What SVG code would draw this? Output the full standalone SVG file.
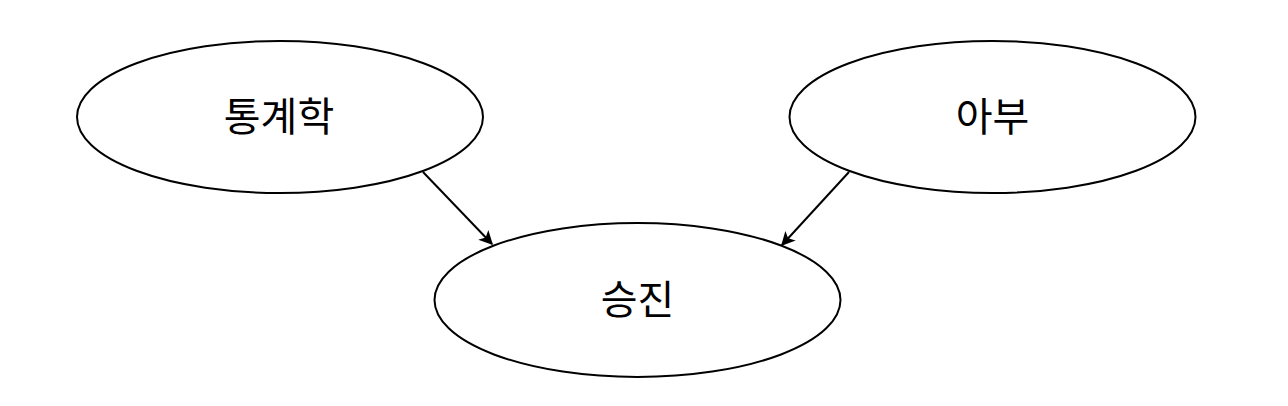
<svg xmlns="http://www.w3.org/2000/svg" width="1288" height="406" viewBox="0 0 1288 406">
<style>
.node ellipse{fill:#fff;stroke:#000;stroke-width:2}
.node text{font-family:"Noto Sans CJK KR","Noto Sans",sans-serif;font-size:40px;text-anchor:middle;fill:#000}
.edge{stroke:#000;stroke-width:2;fill:none;marker-end:url(#arrow)}
</style>
<defs>
<marker id="arrow" viewBox="0 0 10 10" refX="9" refY="5" markerWidth="7" markerHeight="7" markerUnits="strokeWidth" orient="auto">
<path d="M0,0 L10,5 L0,10 L2.5,5 Z" fill="#000"/>
</marker>
</defs>
<rect width="1288" height="406" fill="#fff"/>
<g id="connectors">
<line class="edge" x1="423" y1="172" x2="492" y2="244"/>
<line class="edge" x1="849" y1="172" x2="782" y2="245"/>
</g>
<g id="node-stats" class="node">
<ellipse cx="280" cy="117" rx="203" ry="76"/>
<text x="279" y="131">통계학</text>
</g>
<g id="node-abu" class="node">
<ellipse cx="992.5" cy="117" rx="203" ry="76"/>
<text x="992.5" y="131">아부</text>
</g>
<g id="node-promo" class="node">
<ellipse cx="637.5" cy="300" rx="203" ry="77"/>
<text x="637.5" y="314">승진</text>
</g>
</svg>
